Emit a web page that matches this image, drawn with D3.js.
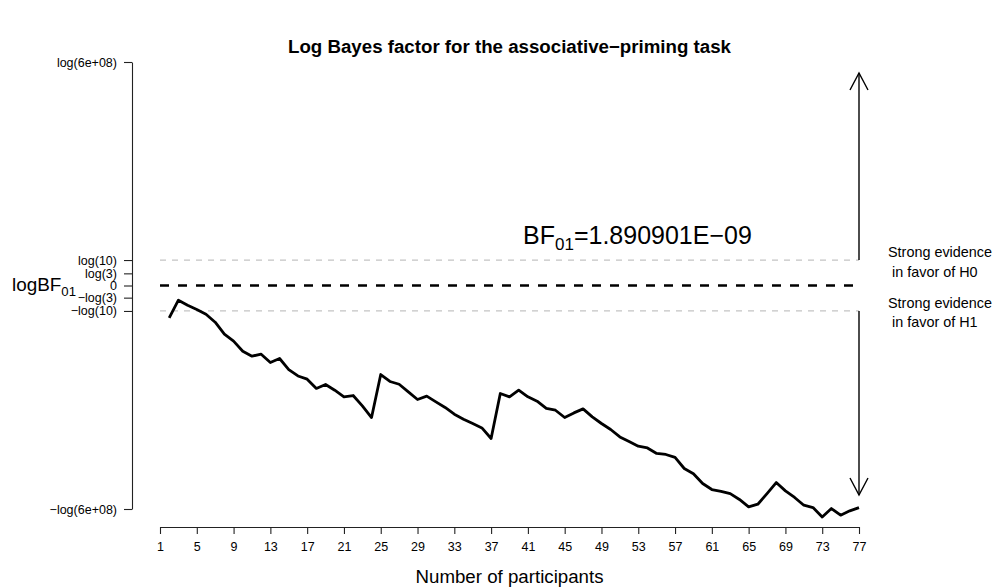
<!DOCTYPE html>
<html>
<head>
<meta charset="utf-8">
<script src="https://cdn.jsdelivr.net/npm/d3@7"></script>
<style>
  html, body { margin: 0; padding: 0; background: #fff; }
  svg { display: block; font-family: "Liberation Sans", Arial, Helvetica, sans-serif; }
</style>
</head>
<body>
<svg id="chart" width="992" height="587"></svg>
<script>
// Sequential log Bayes factor (log BF01) after each participant, n = 2..77
const participants = d3.range(2, 78);
const logBF = [
  -2.93, -1.33, -1.78, -2.17, -2.60, -3.32, -4.40, -5.03, -5.94, -6.39,
  -6.21, -6.96, -6.60, -7.60, -8.18, -8.47, -9.31, -8.95, -9.47, -10.07,
  -9.95, -10.89, -11.94, -8.05, -8.68, -8.93, -9.62, -10.31, -10.01, -10.53,
  -11.03, -11.64, -12.09, -12.48, -12.88, -13.84, -9.77, -10.07, -9.47, -10.07,
  -10.46, -11.12, -11.28, -11.94, -11.52, -11.16, -11.88, -12.48, -13.02, -13.69,
  -14.11, -14.53, -14.69, -15.19, -15.28, -15.55, -16.55, -17.02, -17.91, -18.45,
  -18.61, -18.82, -19.35, -20.02, -19.78, -18.82, -17.82, -18.57, -19.17, -19.87,
  -20.08, -20.93, -20.17, -20.77, -20.38, Math.log(1.890901e-09)
];
const finalBF = "1.890901E\u221209";

// Axis ticks
const xTicks = d3.range(1, 78, 4);
const yLim = Math.log(6e8);
const yTickValues = [-yLim, -Math.log(10), -Math.log(3), 0, Math.log(3), Math.log(10), yLim];
const yTickLabels = ["\u2212log(6e+08)", "\u2212log(10)", "\u2212log(3)", "0", "log(3)", "log(10)", "log(6e+08)"];

const svg = d3.select("#chart");
const x = d3.scaleLinear().domain([1, 77]).range([160, 859]);
const y = d3.scaleLinear().domain([-yLim, yLim]).range([509, 62]);

// Title
svg.append("text")
  .attr("x", 509.5).attr("y", 53)
  .attr("text-anchor", "middle")
  .attr("font-weight", "bold")
  .attr("font-size", 18.7)
  .text("Log Bayes factor for the associative\u2212priming task");

// Reference lines: evidence thresholds and zero
[Math.log(10), -Math.log(10)].forEach(v => {
  svg.append("line")
    .attr("x1", x(1)).attr("x2", x(77))
    .attr("y1", y(v)).attr("y2", y(v))
    .attr("stroke", "#c4c4c4").attr("stroke-width", 1.3)
    .attr("stroke-dasharray", "6,6");
});
svg.append("line")
  .attr("x1", x(1)).attr("x2", x(77))
  .attr("y1", y(0)).attr("y2", y(0))
  .attr("stroke", "#000").attr("stroke-width", 2.6)
  .attr("stroke-dasharray", "9,9");

// Y axis
const yAxis = svg.append("g")
  .attr("transform", "translate(132,0)")
  .call(d3.axisLeft(y).tickValues(yTickValues)
    .tickFormat((d, i) => yTickLabels[i])
    .tickSize(8).tickSizeOuter(0).tickPadding(7));
yAxis.selectAll("text").attr("font-size", 12.5).attr("fill", "#000")
  .attr("font-family", "'Liberation Sans', Arial, sans-serif");
yAxis.selectAll("line, path").attr("stroke", "#222").attr("stroke-width", 1.1);

// X axis
const xAxis = svg.append("g")
  .attr("transform", "translate(0,527)")
  .call(d3.axisBottom(x).tickValues(xTicks)
    .tickSize(7).tickSizeOuter(0).tickPadding(8));
xAxis.selectAll("text").attr("font-size", 12.5).attr("fill", "#000")
  .attr("font-family", "'Liberation Sans', Arial, sans-serif");
xAxis.selectAll("line, path").attr("stroke", "#222").attr("stroke-width", 1.1);

// Axis titles
svg.append("text")
  .attr("x", 509.5).attr("y", 583)
  .attr("text-anchor", "middle")
  .attr("font-size", 18.7)
  .text("Number of participants");

const yTitle = svg.append("text")
  .attr("x", 12).attr("y", 291)
  .attr("font-size", 18.9);
yTitle.append("tspan").text("logBF");
yTitle.append("tspan").attr("font-size", 13.2).attr("dy", 5).text("01");

// Log BF trajectory
const line = d3.line()
  .x((d, i) => x(participants[i]))
  .y(d => y(d));
svg.append("path")
  .datum(logBF)
  .attr("d", line)
  .attr("fill", "none")
  .attr("stroke", "#000")
  .attr("stroke-width", 2.8)
  .attr("stroke-linejoin", "round");

// Final Bayes factor label
const bfLabel = svg.append("text")
  .attr("x", 523).attr("y", 244)
  .attr("font-size", 25);
bfLabel.append("tspan").text("BF");
bfLabel.append("tspan").attr("font-size", 17).attr("dy", 6).text("01");
bfLabel.append("tspan").attr("dy", -6).text("=" + finalBF);

// Evidence arrows
function arrow(yFrom, yTo) {
  const dir = yTo < yFrom ? 1 : -1;
  const ax = x(77);
  svg.append("line")
    .attr("x1", ax).attr("x2", ax)
    .attr("y1", yFrom).attr("y2", yTo)
    .attr("stroke", "#000").attr("stroke-width", 1.4);
  svg.append("path")
    .attr("d", `M${ax - 9},${yTo + dir * 17} L${ax},${yTo} L${ax + 9},${yTo + dir * 17}`)
    .attr("fill", "none").attr("stroke", "#000").attr("stroke-width", 1.4);
}
arrow(y(Math.log(10)), y(yLim) + 11);
arrow(y(-Math.log(10)), y(-yLim) - 14);

// Side annotations
function note(v, lines) {
  const t = svg.append("text")
    .attr("x", 888).attr("y", y(v) - 3)
    .attr("font-size", 14.4);
  lines.forEach((s, i) => {
    t.append("tspan").attr("x", 888).attr("dy", i === 0 ? 0 : 19.5)
      .attr("xml:space", "preserve").text(s);
  });
}
note(Math.log(10), ["Strong evidence", " in favor of H0"]);
note(-Math.log(10), ["Strong evidence", " in favor of H1"]);
</script>
</body>
</html>
